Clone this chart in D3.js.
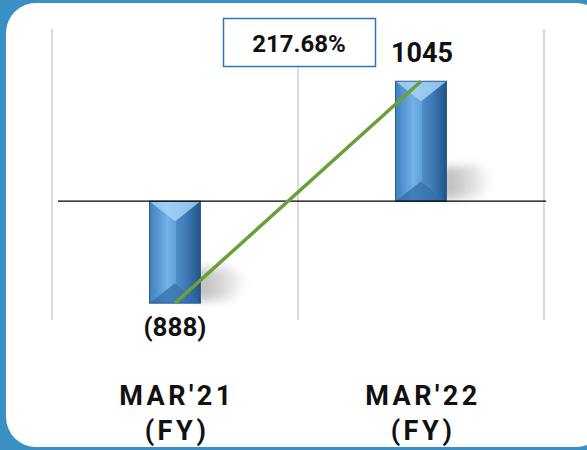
<!DOCTYPE html>
<html>
<head>
<meta charset="utf-8">
<script src="https://cdn.jsdelivr.net/npm/d3@7"></script>
<style>
body { margin:0; background:#3a8fc4; }
svg { display:block; font-family: Roboto, "Liberation Sans", sans-serif; }
</style>
</head>
<body>
<script>
var categories = ["MAR'21", "MAR'22"];
var subLabels = ["(FY)", "(FY)"];
var values = [-888, 1045];
var valueLabels = ["(888)", "1045"];
var growthLabel = "217.68%";

var W = 587, H = 450;
var svg = d3.select("body").append("svg").attr("width", W).attr("height", H);

var defs = svg.append("defs");
var g1 = defs.append("linearGradient").attr("id", "barFill").attr("x1", 0).attr("x2", 1).attr("y1", 0).attr("y2", 0);
g1.append("stop").attr("offset", "0%").attr("stop-color", "#3f7fbd");
g1.append("stop").attr("offset", "35%").attr("stop-color", "#72b2e8");
g1.append("stop").attr("offset", "70%").attr("stop-color", "#4d8ccb");
g1.append("stop").attr("offset", "100%").attr("stop-color", "#25568a");
var sg = defs.append("linearGradient").attr("id", "shadowFill").attr("x1", 0).attr("x2", 1).attr("y1", 0).attr("y2", 0);
sg.append("stop").attr("offset", "0%").attr("stop-color", "#777").attr("stop-opacity", 0.9);
sg.append("stop").attr("offset", "100%").attr("stop-color", "#777").attr("stop-opacity", 0);
var blur = defs.append("filter").attr("id", "shadowBlur").attr("x", "-50%").attr("y", "-50%").attr("width", "200%").attr("height", "200%");
blur.append("feGaussianBlur").attr("stdDeviation", 5);

// white panel
svg.append("rect").attr("x", 6).attr("y", 3).attr("width", 600).attr("height", 444)
  .attr("rx", 30).attr("fill", "#fff");

var x = d3.scaleBand().domain(categories).range([52, 544]);
var y = d3.scaleLinear().domain([-1000, 1500]).range([316, 29]);

// vertical gridlines
var gridX = [x.range()[0]].concat(categories.map(function(c){ return x(c) + x.bandwidth(); }));
svg.selectAll("line.grid").data(gridX).enter().append("line")
  .attr("x1", function(d){ return d; }).attr("x2", function(d){ return d; })
  .attr("y1", y(1500)).attr("y2", 320)
  .attr("stroke", "#dadada").attr("stroke-width", 2);

var bw = 51;
var bars = svg.selectAll("g.bar").data(values).enter().append("g");

bars.each(function(d, i){
  var g = d3.select(this);
  var cx = x(categories[i]) + x.bandwidth()/2;
  var x0 = cx - bw/2, x1 = cx + bw/2;
  var yt = y(Math.max(0, d)), yb = y(Math.min(0, d));
  var inset = 20;
  // shadow to the right of the bar base
  g.append("path")
    .attr("d", "M" + (x1 - 4) + "," + (yb - 2) + "L" + (x1 - 4) + "," + (yb - 34) + "L" + (x1 + 30) + "," + (yb - 36)
      + "L" + (x1 + 48) + "," + (yb - 22) + "L" + (x1 + 30) + "," + (yb - 4) + "Z")
    .attr("fill", "url(#shadowFill)").attr("opacity", 0.6).attr("filter", "url(#shadowBlur)");
  g.append("rect").attr("x", x0).attr("y", yt).attr("width", bw).attr("height", yb - yt)
    .attr("fill", "url(#barFill)");
  // top facet
  g.append("path").attr("d", "M" + x0 + "," + yt + "L" + x1 + "," + yt + "L" + cx + "," + (yt + inset) + "Z")
    .attr("fill", "#a7d5f7").attr("opacity", 0.8);
  // bottom facet
  g.append("path").attr("d", "M" + x0 + "," + yb + "L" + x1 + "," + yb + "L" + cx + "," + (yb - inset) + "Z")
    .attr("fill", "#2f6aa5").attr("opacity", 0.7);
  // right side facet
  g.append("path").attr("d", "M" + x1 + "," + yt + "L" + x1 + "," + yb + "L" + (cx + 1) + "," + (yb - inset) + "L" + (cx + 1) + "," + (yt + inset) + "Z")
    .attr("fill", "#1f4f82").attr("opacity", 0.25);
  g.append("rect").attr("x", x0).attr("y", yt).attr("width", bw).attr("height", yb - yt)
    .attr("fill", "none").attr("stroke", "#2c5f94").attr("stroke-width", 1);
});

// zero line
svg.append("line").attr("x1", 58).attr("x2", 546).attr("y1", y(0)).attr("y2", y(0))
  .attr("stroke", "#000").attr("stroke-width", 1.2);

// growth line
svg.append("line")
  .attr("x1", x(categories[0]) + x.bandwidth()/2).attr("y1", y(values[0]))
  .attr("x2", x(categories[1]) + x.bandwidth()/2).attr("y2", y(values[1]))
  .attr("stroke", "#6a9f3b").attr("stroke-width", 3.5);

// value labels
svg.selectAll("text.val").data(values).enter().append("text")
  .attr("x", function(d, i){ return x(categories[i]) + x.bandwidth()/2 + (d > 0 ? 1 : 0); })
  .attr("y", function(d){ return d > 0 ? y(d) - 19 : y(d) + 33; })
  .attr("text-anchor", "middle").attr("font-size", function(d){ return d > 0 ? 27 : 26; })
  .attr("font-weight", "bold").attr("fill", "#111")
  .text(function(d, i){ return valueLabels[i]; });

// growth box
svg.append("rect").attr("x", 223.5).attr("y", 18.5).attr("width", 152).attr("height", 48)
  .attr("fill", "#fff").attr("stroke", "#2e75b6").attr("stroke-width", 1.5);
svg.append("text").attr("x", 299).attr("y", 52).attr("text-anchor", "middle")
  .attr("font-size", 24).attr("font-weight", "bold").attr("fill", "#111").text(growthLabel);

// category labels
var cat = svg.selectAll("g.cat").data(categories).enter().append("g");
cat.append("text").attr("x", function(d){ return x(d) + x.bandwidth()/2 + 2; }).attr("y", 405)
  .attr("text-anchor", "middle").attr("font-size", 27).attr("font-weight", "bold")
  .attr("letter-spacing", 3.5).attr("fill", "#111").text(function(d){ return d; });
cat.append("text").attr("x", function(d){ return x(d) + x.bandwidth()/2 + 2; }).attr("y", 440)
  .attr("text-anchor", "middle").attr("font-size", 27).attr("font-weight", "bold")
  .attr("letter-spacing", 3.5).attr("fill", "#111").text(function(d, i){ return subLabels[i]; });
</script>
</body>
</html>
